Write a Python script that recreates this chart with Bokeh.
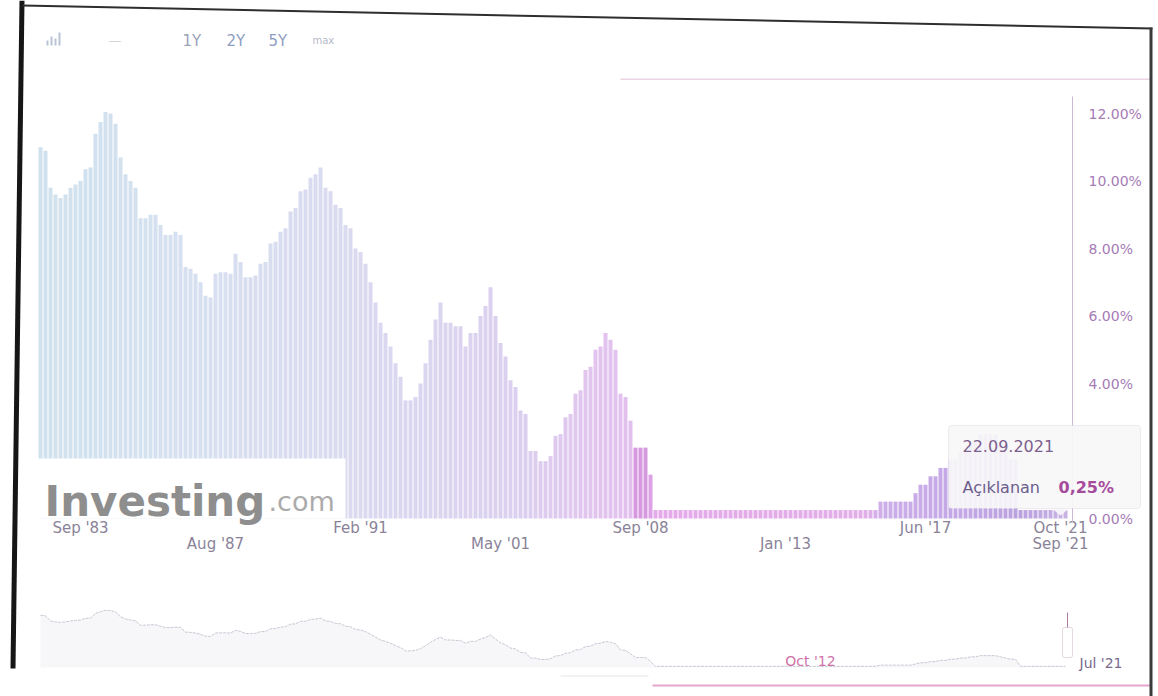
import numpy as np
from bokeh.plotting import figure
from bokeh.models import (ColumnDataSource, Range1d, LinearAxis, FixedTicker,
                          PrintfTickFormatter, Label, BoxAnnotation, PolyAnnotation)
from bokeh.embed import file_html
from bokeh.resources import INLINE

# ---------------- data ----------------
rates = [
    11.0, 10.9, 9.8, 9.6, 9.5, 9.6, 9.8, 9.9, 10.0, 10.35,
    10.4, 11.4, 11.75, 12.05, 12.0, 11.7, 10.7, 10.2, 10.0, 9.8,
    8.9, 8.9, 9.0, 9.0, 8.7, 8.4, 8.4, 8.5, 8.4, 7.45,
    7.4, 7.25, 7.0, 6.6, 6.55, 7.25, 7.3, 7.3, 7.25, 7.85,
    7.6, 7.15, 7.15, 7.2, 7.55, 7.6, 8.15, 8.2, 8.5, 8.6,
    9.1, 9.2, 9.7, 9.75, 10.1, 10.2, 10.4, 9.8, 9.7, 9.3,
    9.2, 8.7, 8.6, 8.0, 7.9, 7.55, 7.0, 6.4, 5.8, 5.5,
    5.1, 4.6, 4.2, 3.5, 3.5, 3.6, 4.0, 4.6, 5.3, 5.9,
    6.4, 5.8, 5.8, 5.7, 5.7, 5.1, 5.5, 5.5, 6.0, 6.3,
    6.85, 6.0, 5.2, 4.8, 4.1, 3.9, 3.2, 3.1, 2.0, 2.0,
    1.7, 1.7, 1.85, 2.45, 2.5, 3.0, 3.1, 3.7, 3.8, 4.4,
    4.5, 5.0, 5.1, 5.5, 5.3, 5.0, 3.7, 3.6, 2.9, 2.1,
    2.1, 2.1, 1.3, 0.25, 0.25, 0.25, 0.25, 0.25, 0.25, 0.25,
    0.25, 0.25, 0.25, 0.25, 0.25, 0.25, 0.25, 0.25, 0.25, 0.25,
    0.25, 0.25, 0.25, 0.25, 0.25, 0.25, 0.25, 0.25, 0.25, 0.25,
    0.25, 0.25, 0.25, 0.25, 0.25, 0.25, 0.25, 0.25, 0.25, 0.25,
    0.25, 0.25, 0.25, 0.25, 0.25, 0.25, 0.25, 0.25, 0.5, 0.5,
    0.5, 0.5, 0.5, 0.5, 0.5, 0.75, 1.0, 1.0, 1.25, 1.25,
    1.5, 1.5, 1.75, 1.75, 2.0, 2.0, 2.25, 2.25, 2.5, 2.5,
    2.5, 2.5, 2.25, 2.0, 1.75, 1.75, 0.25, 0.25, 0.25, 0.25,
    0.25, 0.25, 0.25, 0.25, 0.25, 0.25,
]

row1_ticks = [8, 64, 120, 177, 204]
row1_labels = ["Sep '83", "Feb '91", "Sep '08", "Jun '17", "Oct '21"]
row2_ticks = [35, 92, 149, 204]
row2_labels = ["Aug '87", "May '01", "Jan '13", "Sep '21"]
y_ticks = [0, 4, 6, 8, 10, 12]
range_buttons = ["1Y", "2Y", "5Y", "max"]
tooltip_date = "22.09.2021"
tooltip_name = "Açıklanan"
tooltip_value = "0,25%"
nav_labels = ["Oct '12", "Jul '21"]

FONT = "DejaVu Sans"
W, H = 1158, 696

# ---------------- styling helpers ----------------
n = len(rates)
idx = list(range(n))

stop_i = [0, 30, 60, 95, 112, 118, 119, 121, 123, 165, 169, 185, 196, 205]
stop_c = ["#d0e2ee", "#d6e0f0", "#dadaf0", "#dbd0ef", "#e2c3ee", "#e2c0ee",
          "#d699e0", "#d699e0", "#e4aaea", "#e2aee8", "#cbaee8", "#c3a7e6",
          "#b9a2de", "#c8b1e3"]


def h2r(h):
    return [int(h[k:k + 2], 16) for k in (1, 3, 5)]


rgb = np.array([h2r(c) for c in stop_c], dtype=float)
colors = []
for i in idx:
    r = int(round(np.interp(i, stop_i, rgb[:, 0])))
    g = int(round(np.interp(i, stop_i, rgb[:, 1])))
    b = int(round(np.interp(i, stop_i, rgb[:, 2])))
    colors.append("#%02x%02x%02x" % (r, g, b))

src = ColumnDataSource(dict(idx=idx, rate=rates, color=colors))

# pixel helpers for annotation placement (baseline at y=518, 33.742 px per %, 5 px per bar)
PXW = 5.0
PPP = 33.742


def ix(px):
    return (px - 40.0) / PXW


def yv(py):
    return (518.0 - py) / PPP


NAV0, NAVP = 667.0, 4.75   # navigator: zero line and px per %

p = figure(width=W, height=H, x_range=Range1d(ix(0), ix(W)),
           y_range=Range1d(yv(H), yv(0)), output_backend="svg",
           toolbar_location=None, x_axis_location=None, y_axis_location=None,
           min_border=0)
p.min_border_left = p.min_border_right = p.min_border_top = p.min_border_bottom = 0
p.outline_line_color = None
p.background_fill_color = "white"
p.border_fill_color = "white"
p.grid.visible = False
p.extra_y_ranges = {"nav": Range1d(-(H - NAV0) / NAVP, NAV0 / NAVP)}

# main bars
p.vbar(x="idx", top="rate", bottom=0, width=0.8, fill_color="color",
       line_color=None, source=src)

# navigator series
p.varea(x="idx", y1=0, y2="rate", source=src, fill_color="#f5f5f8", fill_alpha=0.8,
        y_range_name="nav")
p.line(x="idx", y="rate", source=src, line_color="#b9bdcb", line_width=1,
       line_alpha=0.8, y_range_name="nav", line_dash="3 1")

# y axis (right side, drawn at the chart edge)
yax = LinearAxis(ticker=FixedTicker(ticks=y_ticks),
                 formatter=PrintfTickFormatter(format="%.2f%%"),
                 fixed_location=ix(1072))
yax.axis_line_color = None
yax.major_tick_line_color = None
yax.minor_tick_line_color = None
yax.major_label_standoff = 10
yax.major_label_text_font = FONT
yax.major_label_text_font_size = "14px"
yax.major_label_text_color = "#a67cb6"
p.add_layout(yax, "right")
p.add_layout(BoxAnnotation(left=ix(1071.5), right=ix(1072.5), bottom=yv(522), top=yv(96),
                           fill_color="#cdb8d4", fill_alpha=1.0, line_color=None))

# x axes (two staggered rows)
for ticks, labels, stand in ((row1_ticks, row1_labels, -6), (row2_ticks, row2_labels, 10)):
    ax = LinearAxis(ticker=FixedTicker(ticks=ticks),
                    major_label_overrides={int(t): l for t, l in zip(ticks, labels)},
                    fixed_location=0)
    ax.axis_line_color = None
    ax.major_tick_line_color = None
    ax.minor_tick_line_color = None
    ax.major_label_standoff = stand
    ax.major_label_text_font = FONT
    ax.major_label_text_font_size = "15px"
    ax.major_label_text_color = "#8a8398"
    p.add_layout(ax, "below")

# watermark
p.add_layout(BoxAnnotation(left=ix(30), right=ix(345), bottom=0, top=yv(458),
                           fill_color="white", fill_alpha=1.0, line_color=None))
p.add_layout(Label(x=ix(44), y=yv(501), text="Investing", text_font=FONT,
                   text_font_style="bold", text_font_size="42px",
                   text_color="#8e8e8e", text_baseline="alphabetic"))
p.add_layout(Label(x=ix(268), y=yv(501), text=".com", text_font=FONT,
                   text_font_size="27px", text_color="#ababab",
                   text_baseline="alphabetic"))

# range selector
for txt, px, size, col in zip(range_buttons, [182, 226, 268, 312], [15, 15, 15, 10],
                             ["#9aa3b8", "#8e9dbf", "#8e9dbf", "#b5b9c6"]):
    p.add_layout(Label(x=ix(px), y=yv(40), text=txt, text_font=FONT,
                       text_font_size=f"{size}px", text_color=col,
                       text_baseline="middle"))
p.add_layout(Label(x=ix(108), y=yv(40), text="—", text_font=FONT,
                   text_font_size="13px", text_color="#d6d6d6",
                   text_baseline="middle"))
for bx, bt in zip([46, 50, 54, 58], [40, 36, 38, 32]):
    p.add_layout(BoxAnnotation(left=bx, right=bx + 2, top=bt, bottom=45,
                               left_units="canvas", right_units="canvas",
                               top_units="canvas", bottom_units="canvas",
                               fill_color="#b9c4d6", fill_alpha=1.0, line_color=None))

# faint line on top of plot
p.add_layout(BoxAnnotation(left=ix(620), right=ix(1150), top=yv(78), bottom=yv(79.5),
                           fill_color="#ead4e4", fill_alpha=1.0, line_color=None))

# tooltip
p.add_layout(BoxAnnotation(left=ix(948), right=ix(1140), top=yv(425), bottom=yv(508),
                           fill_color="#f7f7f8", fill_alpha=0.92, line_color="#cec6d6",
                           line_width=1, border_radius=3, level="overlay"))
p.add_layout(PolyAnnotation(xs=[ix(1052), ix(1060), ix(1068)],
                            ys=[yv(508.5), yv(515), yv(508.5)],
                            fill_color="#f7f7f8", fill_alpha=0.92, line_color=None,
                            level="overlay"))
p.add_layout(Label(x=ix(962), y=yv(445), text=tooltip_date, text_font=FONT,
                   text_font_size="16px", text_color="#7c5f8e",
                   text_baseline="middle", level="overlay"))
p.add_layout(Label(x=ix(962), y=yv(487), text=tooltip_name, text_font=FONT,
                   text_font_size="16px", text_color="#6c5e8c",
                   text_baseline="middle", level="overlay"))
p.add_layout(Label(x=ix(1058), y=yv(487), text=tooltip_value, text_font=FONT,
                   text_font_size="16px", text_font_style="bold",
                   text_color="#a64a9c", text_baseline="middle", level="overlay"))

# navigator decorations
p.add_layout(Label(x=ix(810), y=yv(660), text=nav_labels[0], text_font=FONT,
                   text_font_size="14px", text_color="#d072a8", text_align="center",
                   text_baseline="middle"))
p.add_layout(Label(x=ix(1079), y=yv(662), text=nav_labels[1], text_font=FONT,
                   text_font_size="14px", text_color="#7a6a8c", text_baseline="middle"))


def cbox(l, r, t, b, color, line=None, radius=0):
    p.add_layout(BoxAnnotation(left=l, right=r, top=t, bottom=b, left_units="canvas",
                               right_units="canvas", top_units="canvas",
                               bottom_units="canvas", fill_color=color, fill_alpha=1.0,
                               line_color=line, line_width=1, border_radius=radius,
                               level="overlay"))


cbox(1062, 1072, 627, 657, "white", line="#b07aa0", radius=2)
cbox(1066.5, 1067.5, 612, 627, "#b07aa0")
cbox(652, 1150, 684, 686, "#e4a6cc")
cbox(560, 648, 675, 676, "#e6e6ec")

# scanned page edges
p.add_layout(PolyAnnotation(xs=[19, 24, 15, 10], ys=[0, 0, 668, 668],
                            xs_units="canvas", ys_units="canvas",
                            fill_color="#161616", fill_alpha=1.0, line_color=None,
                            level="overlay"))
p.add_layout(PolyAnnotation(xs=[22, 1152, 1152, 22], ys=[4, 27, 29, 6],
                            xs_units="canvas", ys_units="canvas",
                            fill_color="#2e2e2e", fill_alpha=1.0, line_color=None,
                            level="overlay"))
cbox(1149, 1152, 27, 696, "#3a3a3a")

open("out.html", "w").write(file_html(p, INLINE))
